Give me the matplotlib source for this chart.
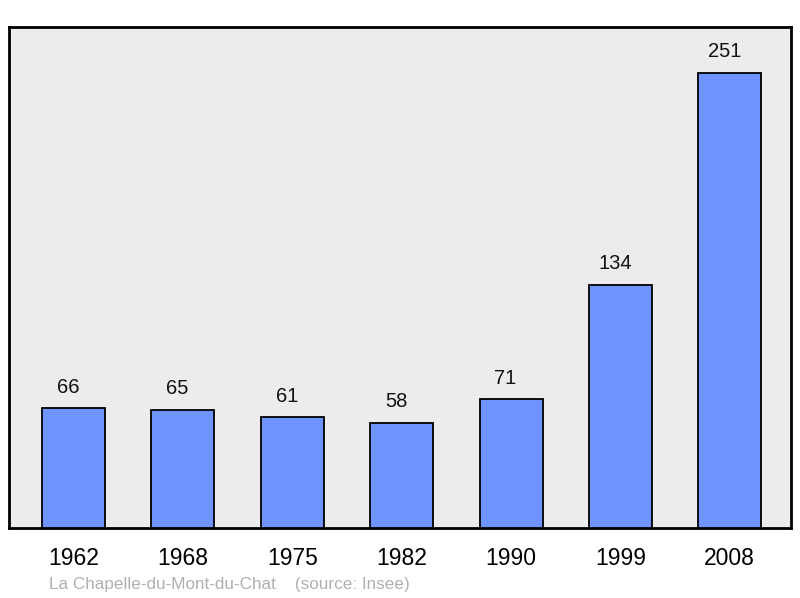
import matplotlib
matplotlib.use('Agg')
import matplotlib.pyplot as plt

plt.rcParams['font.family'] = ['Liberation Sans', 'DejaVu Sans']

# population par année
years = ['1962', '1968', '1975', '1982', '1990', '1999', '2008']
pop = [66, 65, 61, 58, 71, 134, 251]
commune = 'La Chapelle-du-Mont-du-Chat'
source = '(source: Insee)'

fig = plt.figure(figsize=(8, 5.98), dpi=100)
W, H = 800, 598
ax = fig.add_axes([9 / W, 1 - 528 / H, 782 / W, 501 / H])
ax.set_facecolor('#ececec')

x = range(len(years))
ax.bar(x, pop, width=0.576, color='#7094ff', edgecolor='black', linewidth=1.3, zorder=3)
# étiquettes un peu à gauche du centre, comme l'original
for i, v in enumerate(pop):
    ax.annotate(str(v), (i, v), xytext=(-4, 15.3), textcoords='offset points',
                ha='center', va='center', fontsize=14.5, color='#111111')

ax.set_xlim(-0.59, 6.56)
ax.set_ylim(0, 276.3)
ax.set_xticks(list(x))
ax.set_xticklabels(years, fontsize=16.5)
ax.tick_params(axis='x', length=0, pad=14)
ax.set_yticks([])
for s in ax.spines.values():
    s.set_linewidth(2)

fig.text(49 / W, 1 - 585 / H, commune + '    ' + source, fontsize=12.3,
         color='#b0b0b0', va='center', ha='left')

fig.savefig('out.png', dpi=100)
